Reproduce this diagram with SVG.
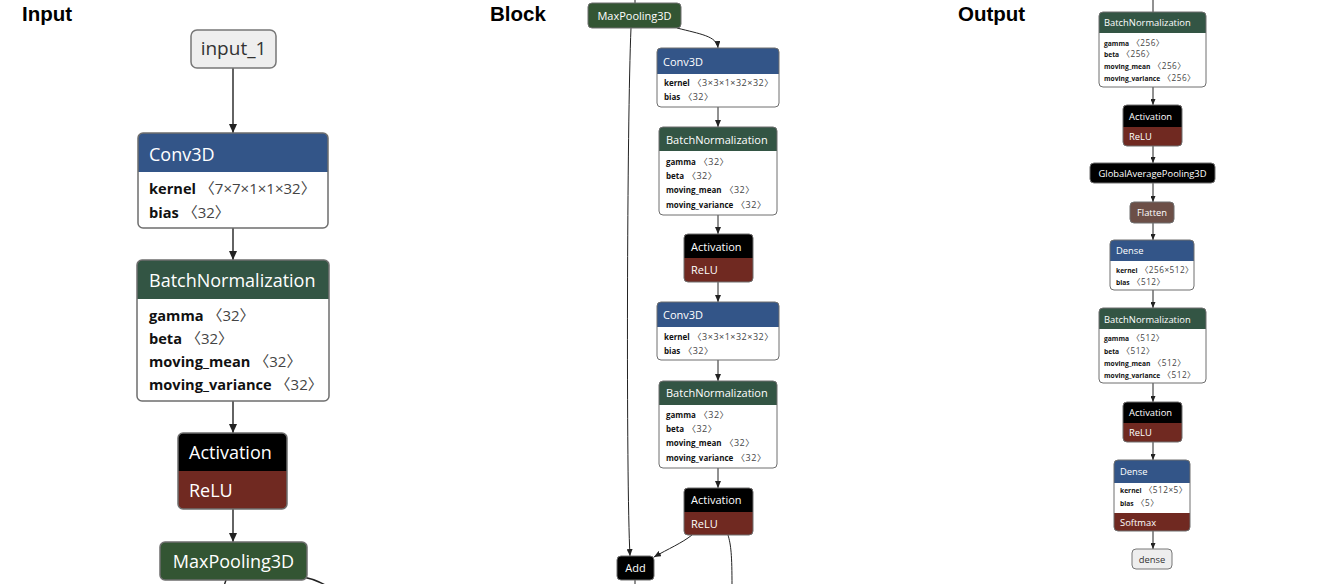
<svg xmlns="http://www.w3.org/2000/svg" width="1327" height="584" viewBox="0 0 1327 584">
<defs>
<style>
.title{font-family:"Liberation Sans",Arial,sans-serif;font-weight:bold;font-size:20.5px;fill:#000}
.f{font-family:"Open Sans","Noto Sans","Noto Sans CJK SC",sans-serif}
.ht{fill:#fff}
.n{font-weight:bold;fill:#111}
.v{fill:#444}
.io{fill:#eee;stroke:#777}
.iot{fill:#333}
.body{fill:#fff}
.ol{fill:none;stroke:#6e6e6e}
.conv{fill:#335588}
.norm{fill:#335544}
.pool{fill:#335533}
.blk{fill:#000}
.act{fill:#702921}
.shape{fill:#6c4f47}
.e{fill:none;stroke:#222}
.L{font-size:18px}
.Lb{font-size:14.6px}
.Lb .v{font-size:15px}
.M{font-size:11px}
.Mb{font-size:8px}
.Mb .v{font-size:9px;letter-spacing:0.5px}
.S{font-size:9.4px}
.Sb{font-size:6.7px}
.Sb .v{font-size:8.2px;letter-spacing:0.5px}
</style>
<marker id="aL" markerUnits="userSpaceOnUse" markerWidth="9" markerHeight="8" refX="9" refY="4" orient="auto"><path d="M0,0 L9,4 L0,8 z" fill="#222"/></marker>
<marker id="aM" markerUnits="userSpaceOnUse" markerWidth="7" markerHeight="6" refX="7" refY="3" orient="auto"><path d="M0,0 L7,3 L0,6 z" fill="#222"/></marker>
<marker id="aS" markerUnits="userSpaceOnUse" markerWidth="6" markerHeight="5" refX="6" refY="2.5" orient="auto"><path d="M0,0 L6,2.5 L0,5 z" fill="#222"/></marker>
</defs>

<text class="title" x="22" y="21">Input</text>
<text class="title" x="490" y="21">Block</text>
<text class="title" x="958" y="21">Output</text>

<g id="connectors">
<g stroke-width="1.4">
<path class="e" d="M233,68 V133" marker-end="url(#aL)"/>
<path class="e" d="M233,228 V260" marker-end="url(#aL)"/>
<path class="e" d="M233,401 V433" marker-end="url(#aL)"/>
<path class="e" d="M233,509 V542" marker-end="url(#aL)"/>
<path class="e" d="M226,580 L224,586"/>
<path class="e" d="M303,577 Q315,579 327,586"/>
</g>
<g stroke-width="1">
<path class="e" d="M635,0 V3"/>
<path class="e" d="M677,28 C700,34 717,36 718,48" marker-end="url(#aM)"/>
<path class="e" d="M631,28 C627,120 626,480 630,556" marker-end="url(#aM)"/>
<path class="e" d="M718,107 V127" marker-end="url(#aM)"/>
<path class="e" d="M718,215 V234" marker-end="url(#aM)"/>
<path class="e" d="M718,282 V302" marker-end="url(#aM)"/>
<path class="e" d="M718,360 V381" marker-end="url(#aM)"/>
<path class="e" d="M718,468 V488" marker-end="url(#aM)"/>
<path class="e" d="M692,535 C682,543 668,549 654,557" marker-end="url(#aM)"/>
<path class="e" d="M728,535 C731,545 732,555 732,586"/>
<path class="e" d="M635,580 V586"/>
</g>
<g stroke-width="1">
<path class="e" d="M1153,0 V12"/>
<path class="e" d="M1153,87 V105" marker-end="url(#aS)"/>
<path class="e" d="M1153,146 V163" marker-end="url(#aS)"/>
<path class="e" d="M1153,183 V202" marker-end="url(#aS)"/>
<path class="e" d="M1153,223 V240" marker-end="url(#aS)"/>
<path class="e" d="M1153,290 V308" marker-end="url(#aS)"/>
<path class="e" d="M1153,383 V402" marker-end="url(#aS)"/>
<path class="e" d="M1153,442 V460" marker-end="url(#aS)"/>
<path class="e" d="M1153,531 V549" marker-end="url(#aS)"/>
</g>
</g>

<!-- Input panel -->
<g id="in_input_1">
<rect class="io" x="191" y="30" width="85" height="38" rx="6" stroke-width="1.5"/>
<text class="f iot" x="233.5" y="55" font-size="19" text-anchor="middle">input_1</text>
</g>
<g id="in_conv3d">
<rect class="body" x="138" y="133" width="190" height="95" rx="5"/>
<path class="conv" d="M138,172 V138 A5,5 0 0 1 143,133 H323 A5,5 0 0 1 328,138 V172 Z"/>
<rect class="ol" x="138" y="133" width="190" height="95" rx="5" stroke-width="1.5"/>
<text class="f L ht" x="149" y="161">Conv3D</text>
<text class="f Lb" x="149" y="194"><tspan class="n">kernel</tspan><tspan class="v"> 〈7×7×1×1×32〉</tspan></text>
<text class="f Lb" x="149" y="218"><tspan class="n">bias</tspan><tspan class="v"> 〈32〉</tspan></text>
</g>
<g id="in_bn">
<rect class="body" x="137" y="260" width="192" height="141" rx="5"/>
<path class="norm" d="M137,299 V265 A5,5 0 0 1 142,260 H324 A5,5 0 0 1 329,265 V299 Z"/>
<rect class="ol" x="137" y="260" width="192" height="141" rx="5" stroke-width="1.5"/>
<text class="f L ht" x="149" y="287">BatchNormalization</text>
<text class="f Lb" x="149" y="321"><tspan class="n">gamma</tspan><tspan class="v"> 〈32〉</tspan></text>
<text class="f Lb" x="149" y="344"><tspan class="n">beta</tspan><tspan class="v"> 〈32〉</tspan></text>
<text class="f Lb" x="149" y="367"><tspan class="n">moving_mean</tspan><tspan class="v"> 〈32〉</tspan></text>
<text class="f Lb" x="149" y="390"><tspan class="n">moving_variance</tspan><tspan class="v"> 〈32〉</tspan></text>
</g>
<g id="in_act">
<rect class="act" x="178" y="433" width="109" height="76" rx="5"/>
<path class="blk" d="M178,471 V438 A5,5 0 0 1 183,433 H282 A5,5 0 0 1 287,438 V471 Z"/>
<rect class="ol" x="178" y="433" width="109" height="76" rx="5" stroke-width="1.5"/>
<text class="f L ht" x="189" y="459">Activation</text>
<text class="f L ht" x="189" y="497">ReLU</text>
</g>
<g id="in_maxpool">
<rect class="pool" x="160" y="542" width="147" height="38" rx="5"/>
<rect class="ol" x="160" y="542" width="147" height="38" rx="5" stroke-width="1.5"/>
<text class="f L ht" x="233.5" y="568" text-anchor="middle">MaxPooling3D</text>
</g>

<!-- Block panel -->
<g id="blk_maxpool">
<rect class="pool" x="588" y="3" width="93" height="25" rx="4"/>
<rect class="ol" x="588" y="3" width="93" height="25" rx="4"/>
<text class="f M ht" x="634.5" y="20" text-anchor="middle">MaxPooling3D</text>
</g>
<g id="blk_conv3d_1">
<rect class="body" x="657" y="48" width="122" height="59" rx="4"/>
<path class="conv" d="M657,74 V52 A4,4 0 0 1 661,48 H775 A4,4 0 0 1 779,52 V74 Z"/>
<rect class="ol" x="657" y="48" width="122" height="59" rx="4"/>
<text class="f M ht" x="663" y="65.5">Conv3D</text>
<text class="f Mb" x="664" y="86"><tspan class="n">kernel</tspan><tspan class="v"> 〈3×3×1×32×32〉</tspan></text>
<text class="f Mb" x="664" y="100"><tspan class="n">bias</tspan><tspan class="v"> 〈32〉</tspan></text>
</g>
<g id="blk_bn_1">
<rect class="body" x="659" y="127" width="118" height="88" rx="4"/>
<path class="norm" d="M659,151 V131 A4,4 0 0 1 663,127 H773 A4,4 0 0 1 777,131 V151 Z"/>
<rect class="ol" x="659" y="127" width="118" height="88" rx="4"/>
<text class="f M ht" x="666" y="143.5">BatchNormalization</text>
<text class="f Mb" x="666" y="165"><tspan class="n">gamma</tspan><tspan class="v"> 〈32〉</tspan></text>
<text class="f Mb" x="666" y="179"><tspan class="n">beta</tspan><tspan class="v"> 〈32〉</tspan></text>
<text class="f Mb" x="666" y="193"><tspan class="n">moving_mean</tspan><tspan class="v"> 〈32〉</tspan></text>
<text class="f Mb" x="666" y="208"><tspan class="n">moving_variance</tspan><tspan class="v"> 〈32〉</tspan></text>
</g>
<g id="blk_act_1">
<rect class="act" x="684" y="234" width="69" height="48" rx="4"/>
<path class="blk" d="M684,258 V238 A4,4 0 0 1 688,234 H749 A4,4 0 0 1 753,238 V258 Z"/>
<rect class="ol" x="684" y="234" width="69" height="48" rx="4"/>
<text class="f M ht" x="691" y="250.5">Activation</text>
<text class="f M ht" x="691" y="274">ReLU</text>
</g>
<g id="blk_conv3d_2">
<rect class="body" x="657" y="302" width="122" height="58" rx="4"/>
<path class="conv" d="M657,327 V306 A4,4 0 0 1 661,302 H775 A4,4 0 0 1 779,306 V327 Z"/>
<rect class="ol" x="657" y="302" width="122" height="58" rx="4"/>
<text class="f M ht" x="663" y="318.5">Conv3D</text>
<text class="f Mb" x="664" y="340"><tspan class="n">kernel</tspan><tspan class="v"> 〈3×3×1×32×32〉</tspan></text>
<text class="f Mb" x="664" y="354"><tspan class="n">bias</tspan><tspan class="v"> 〈32〉</tspan></text>
</g>
<g id="blk_bn_2">
<rect class="body" x="659" y="381" width="118" height="87" rx="4"/>
<path class="norm" d="M659,405 V385 A4,4 0 0 1 663,381 H773 A4,4 0 0 1 777,385 V405 Z"/>
<rect class="ol" x="659" y="381" width="118" height="87" rx="4"/>
<text class="f M ht" x="666" y="397">BatchNormalization</text>
<text class="f Mb" x="666" y="418"><tspan class="n">gamma</tspan><tspan class="v"> 〈32〉</tspan></text>
<text class="f Mb" x="666" y="432"><tspan class="n">beta</tspan><tspan class="v"> 〈32〉</tspan></text>
<text class="f Mb" x="666" y="446"><tspan class="n">moving_mean</tspan><tspan class="v"> 〈32〉</tspan></text>
<text class="f Mb" x="666" y="461"><tspan class="n">moving_variance</tspan><tspan class="v"> 〈32〉</tspan></text>
</g>
<g id="blk_act_2">
<rect class="act" x="684" y="488" width="69" height="47" rx="4"/>
<path class="blk" d="M684,512 V492 A4,4 0 0 1 688,488 H749 A4,4 0 0 1 753,492 V512 Z"/>
<rect class="ol" x="684" y="488" width="69" height="47" rx="4"/>
<text class="f M ht" x="691" y="504">Activation</text>
<text class="f M ht" x="691" y="528">ReLU</text>
</g>
<g id="blk_add">
<rect class="blk" x="617" y="556" width="37" height="24" rx="4"/>
<rect class="ol" x="617" y="556" width="37" height="24" rx="4"/>
<text class="f M ht" x="635.5" y="572" text-anchor="middle">Add</text>
</g>

<!-- Output panel -->
<g id="out_bn_1">
<rect class="body" x="1099" y="12" width="107" height="75" rx="4"/>
<path class="norm" d="M1099,33 V16 A4,4 0 0 1 1103,12 H1202 A4,4 0 0 1 1206,16 V33 Z"/>
<rect class="ol" x="1099" y="12" width="107" height="75" rx="4"/>
<text class="f S ht" x="1104" y="25.5">BatchNormalization</text>
<text class="f Sb" x="1104" y="45.5"><tspan class="n">gamma</tspan><tspan class="v"> 〈256〉</tspan></text>
<text class="f Sb" x="1104" y="57"><tspan class="n">beta</tspan><tspan class="v"> 〈256〉</tspan></text>
<text class="f Sb" x="1104" y="69"><tspan class="n">moving_mean</tspan><tspan class="v"> 〈256〉</tspan></text>
<text class="f Sb" x="1104" y="81"><tspan class="n">moving_variance</tspan><tspan class="v"> 〈256〉</tspan></text>
</g>
<g id="out_act_1">
<rect class="act" x="1123" y="105" width="59" height="41" rx="4"/>
<path class="blk" d="M1123,127 V109 A4,4 0 0 1 1127,105 H1178 A4,4 0 0 1 1182,109 V127 Z"/>
<rect class="ol" x="1123" y="105" width="59" height="41" rx="4"/>
<text class="f S ht" x="1129" y="119.5">Activation</text>
<text class="f S ht" x="1129" y="139.5">ReLU</text>
</g>
<g id="out_gap">
<rect class="blk" x="1090" y="163" width="125" height="20" rx="4"/>
<rect class="ol" x="1090" y="163" width="125" height="20" rx="4"/>
<text class="f S ht" x="1152.5" y="177" text-anchor="middle">GlobalAveragePooling3D</text>
</g>
<g id="out_flatten">
<rect class="shape" x="1130" y="202" width="44" height="21" rx="4"/>
<rect class="ol" x="1130" y="202" width="44" height="21" rx="4"/>
<text class="f S ht" x="1152" y="215.5" text-anchor="middle">Flatten</text>
</g>
<g id="out_dense_1">
<rect class="body" x="1110" y="240" width="84" height="50" rx="4"/>
<path class="conv" d="M1110,261 V244 A4,4 0 0 1 1114,240 H1190 A4,4 0 0 1 1194,244 V261 Z"/>
<rect class="ol" x="1110" y="240" width="84" height="50" rx="4"/>
<text class="f S ht" x="1116" y="253.5">Dense</text>
<text class="f Sb" x="1116" y="272.5"><tspan class="n">kernel</tspan><tspan class="v"> 〈256×512〉</tspan></text>
<text class="f Sb" x="1116" y="284.5"><tspan class="n">bias</tspan><tspan class="v"> 〈512〉</tspan></text>
</g>
<g id="out_bn_2">
<rect class="body" x="1099" y="308" width="107" height="75" rx="4"/>
<path class="norm" d="M1099,329 V312 A4,4 0 0 1 1103,308 H1202 A4,4 0 0 1 1206,312 V329 Z"/>
<rect class="ol" x="1099" y="308" width="107" height="75" rx="4"/>
<text class="f S ht" x="1104" y="322.5">BatchNormalization</text>
<text class="f Sb" x="1104" y="340.5"><tspan class="n">gamma</tspan><tspan class="v"> 〈512〉</tspan></text>
<text class="f Sb" x="1104" y="353.5"><tspan class="n">beta</tspan><tspan class="v"> 〈512〉</tspan></text>
<text class="f Sb" x="1104" y="365.5"><tspan class="n">moving_mean</tspan><tspan class="v"> 〈512〉</tspan></text>
<text class="f Sb" x="1104" y="377.5"><tspan class="n">moving_variance</tspan><tspan class="v"> 〈512〉</tspan></text>
</g>
<g id="out_act_2">
<rect class="act" x="1123" y="402" width="59" height="40" rx="4"/>
<path class="blk" d="M1123,423 V406 A4,4 0 0 1 1127,402 H1178 A4,4 0 0 1 1182,406 V423 Z"/>
<rect class="ol" x="1123" y="402" width="59" height="40" rx="4"/>
<text class="f S ht" x="1129" y="415.5">Activation</text>
<text class="f S ht" x="1129" y="435.5">ReLU</text>
</g>
<g id="out_dense_2">
<rect class="body" x="1114" y="460" width="76" height="71" rx="4"/>
<path class="conv" d="M1114,483 V464 A4,4 0 0 1 1118,460 H1186 A4,4 0 0 1 1190,464 V483 Z"/>
<path class="act" d="M1114,513 H1190 V527 A4,4 0 0 1 1186,531 H1118 A4,4 0 0 1 1114,527 Z"/>
<rect class="ol" x="1114" y="460" width="76" height="71" rx="4"/>
<text class="f S ht" x="1120" y="474.5">Dense</text>
<text class="f Sb" x="1120" y="492.5"><tspan class="n">kernel</tspan><tspan class="v"> 〈512×5〉</tspan></text>
<text class="f Sb" x="1120" y="505.5"><tspan class="n">bias</tspan><tspan class="v"> 〈5〉</tspan></text>
<text class="f S ht" x="1120" y="525.5">Softmax</text>
</g>
<g id="out_dense">
<rect class="io" x="1132" y="549" width="40" height="20" rx="4"/>
<text class="f S iot" x="1152" y="562.5" text-anchor="middle">dense</text>
</g>
</svg>
